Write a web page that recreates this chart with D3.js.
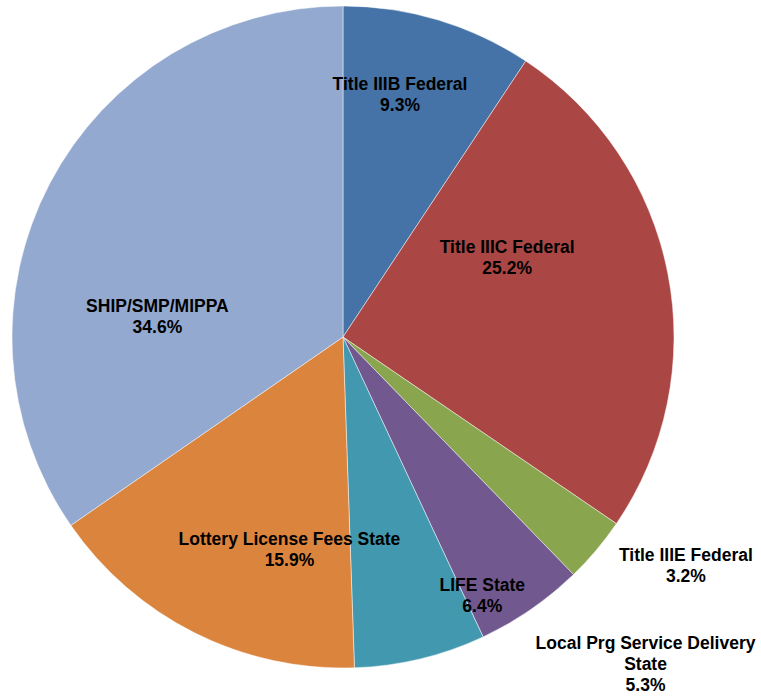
<!DOCTYPE html>
<html>
    <head>
        <title>Funding Sources</title>
        <style>
            html, body { margin: 0; padding: 0; background: #fff; }
            svg text { font-family: "Liberation Sans", Arial, sans-serif; font-weight: bold; font-size: 17.5px; fill: #000; }
        </style>
        <script src="https://d3js.org/d3.v7.min.js"></script>
        <script type="text/javascript">
            // slices, clockwise from 12 o'clock
            var categories = ["Title IIIB Federal", "Title IIIC Federal", "Title IIIE Federal",
                "Local Prg Service Delivery State", "LIFE State", "Lottery License Fees State", "SHIP/SMP/MIPPA"];
            var values = [9.3, 25.2, 3.2, 5.3, 6.4, 15.9, 34.6];
            // how each label is broken into lines
            var labelLines = [["Title IIIB Federal"], ["Title IIIC Federal"], ["Title IIIE Federal"],
                ["Local Prg Service Delivery", "State"], ["LIFE State"], ["Lottery License Fees State"], ["SHIP/SMP/MIPPA"]];
            var colors = ["#4572A7", "#AA4643", "#89A54E", "#71588F", "#4198AF", "#DB843D", "#93A9CF"];
        </script>
    </head>
    <body>
        <div id="chart"></div>
        <script type="text/javascript">
            var w = 761, h = 696;
            var cx = 343, cy = 337, r = 331;

            // labels that sit outside the pie, and manual nudges (like moved excel labels)
            var outside = [false, false, true, true, false, false, false];
            var nudge = [[-5, -37], [-47, -38], [39, -27], [77, 0], [89, 49], [43, 20], [5, 79]];

            var vis = d3.select("#chart").append("svg")
                .attr("width", w)
                .attr("height", h);

            var g = vis.append("g")
                .attr("transform", "translate(" + cx + "," + cy + ")");

            var pie = d3.pie().sort(null).value(d => d);
            var arcs = pie(values);

            var arc = d3.arc().innerRadius(0).outerRadius(r);
            var inArc = d3.arc().innerRadius(r * 0.65).outerRadius(r * 0.65);
            var outArc = d3.arc().innerRadius(r * 1.2).outerRadius(r * 1.2);

            g.selectAll("path.slice")
                .data(arcs)
                .enter()
                .append("path")
                .attr("class", "slice")
                .attr("d", arc)
                .attr("fill", (d, i) => colors[i])
                .attr("stroke", "#fff")
                .attr("stroke-opacity", 0.6)
                .attr("stroke-width", 0.8);

            var lineH = 21;
            var labels = g.selectAll("text.lbl")
                .data(arcs)
                .enter()
                .append("text")
                .attr("class", "lbl")
                .attr("text-anchor", "middle")
                .attr("transform", function(d, i) {
                    var c = outside[i] ? outArc.centroid(d) : inArc.centroid(d);
                    return "translate(" + (c[0] + nudge[i][0]) + "," + (c[1] + nudge[i][1]) + ")";
                });

            labels.each(function(d, i) {
                var lines = labelLines[i].concat([values[i].toFixed(1) + "%"]);
                var t = d3.select(this);
                var top = -(lines.length - 1) * lineH / 2;
                lines.forEach(function(s, k) {
                    t.append("tspan")
                        .attr("x", 0)
                        .attr("y", top + k * lineH)
                        .attr("dy", "0.35em")
                        .text(s);
                });
            });
        </script>
    </body>
</html>
